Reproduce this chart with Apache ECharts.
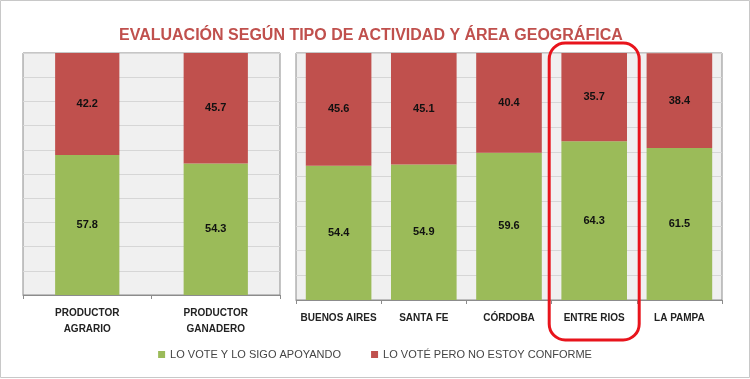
<!DOCTYPE html>
<html>
<head>
<meta charset="utf-8">
<script src="https://cdn.jsdelivr.net/npm/echarts@6/dist/echarts.min.js"></script>
<style>
html,body{margin:0;padding:0;background:#fff;}
#c{width:750px;height:379px;}
</style>
</head>
<body>
<div id="c"></div>
<script>
const titleText = 'EVALUACIÓN SEGÚN TIPO DE ACTIVIDAD Y ÁREA GEOGRÁFICA';
const seriesNames = ['LO VOTE Y LO SIGO APOYANDO', 'LO VOTÉ PERO NO ESTOY CONFORME'];
const activityCats = ['PRODUCTOR\nAGRARIO', 'PRODUCTOR\nGANADERO'];
const activitySupport = [57.8, 54.3];
const activityUnhappy = [42.2, 45.7];
const areaCats = ['BUENOS AIRES', 'SANTA FE', 'CÓRDOBA', 'ENTRE RIOS', 'LA PAMPA'];
const areaSupport = [54.4, 54.9, 59.6, 64.3, 61.5];
const areaUnhappy = [45.6, 45.1, 40.4, 35.7, 38.4];
const highlightCat = 'ENTRE RIOS';

const GREEN = '#9bbb59', RED = '#c0504d';
const font = '"Liberation Sans", Arial, sans-serif';

const chart = echarts.init(document.getElementById('c'), null, {renderer: 'canvas'});

function xAx(idx, cats) {
  return {
    type: 'category', gridIndex: idx, data: cats,
    axisLine: {show: true, lineStyle: {color: '#8c8c8c', width: 1}},
    axisTick: {show: true, length: 4, lineStyle: {color: '#8c8c8c'}},
    axisLabel: {color: '#222', fontSize: 10, fontWeight: 'bold', fontFamily: font, lineHeight: 16, margin: 10, interval: 0}
  };
}
function yAx(idx) {
  return {
    type: 'value', gridIndex: idx, min: 0, max: 100, interval: 10,
    axisLine: {show: false}, axisTick: {show: false}, axisLabel: {show: false},
    splitLine: {show: true, lineStyle: {color: '#d6d6d6', width: 1}}
  };
}
const lbl = {show: true, position: 'inside', color: '#111', fontSize: 11, fontWeight: 'bold', fontFamily: font,
  formatter: p => p.value.toFixed(1)};

const option = {
  animation: false,
  backgroundColor: '#fff',
  title: {
    text: titleText, left: 114, top: 23,
    textStyle: {color: '#c0504d', fontSize: 16, fontWeight: 'bold', fontFamily: font}
  },
  legend: {
    data: seriesNames, bottom: 14, left: 'center', itemWidth: 7, itemHeight: 7, itemGap: 30,
    icon: 'rect',
    textStyle: {color: '#444', fontSize: 11, fontFamily: font}
  },
  grid: [
    {left: 23, top: 53, width: 257, height: 242, show: true, backgroundColor: '#f0f0f0', borderColor: '#8c8c8c', borderWidth: 1},
    {left: 296, top: 53, width: 426, height: 247, show: true, backgroundColor: '#f0f0f0', borderColor: '#8c8c8c', borderWidth: 1}
  ],
  xAxis: [xAx(0, activityCats), xAx(1, areaCats)],
  yAxis: [yAx(0), yAx(1)],
  series: [
    {name: seriesNames[0], type: 'bar', stack: 'a', xAxisIndex: 0, yAxisIndex: 0, barWidth: '50%', data: activitySupport, itemStyle: {color: GREEN}, label: lbl},
    {name: seriesNames[1], type: 'bar', stack: 'a', xAxisIndex: 0, yAxisIndex: 0, barWidth: '50%', data: activityUnhappy, itemStyle: {color: RED}, label: lbl},
    {name: seriesNames[0], type: 'bar', stack: 'b', xAxisIndex: 1, yAxisIndex: 1, barWidth: '77%', data: areaSupport, itemStyle: {color: GREEN}, label: lbl},
    {name: seriesNames[1], type: 'bar', stack: 'b', xAxisIndex: 1, yAxisIndex: 1, barWidth: '77%', data: areaUnhappy, itemStyle: {color: RED}, label: lbl}
  ]
};
chart.setOption(option);

const cx = chart.convertToPixel({xAxisIndex: 1}, highlightCat);
chart.setOption({
  graphic: [
    {type: 'rect', shape: {x: 0.5, y: 0.5, width: 749, height: 377}, style: {fill: 'none', stroke: '#c8c8c8', lineWidth: 1}, z: 100},
    {type: 'rect', shape: {x: cx - 45, y: 43, width: 90, height: 297, r: 16}, style: {fill: 'none', stroke: '#e8141c', lineWidth: 3}, z: 100}
  ]
});
</script>
</body>
</html>
